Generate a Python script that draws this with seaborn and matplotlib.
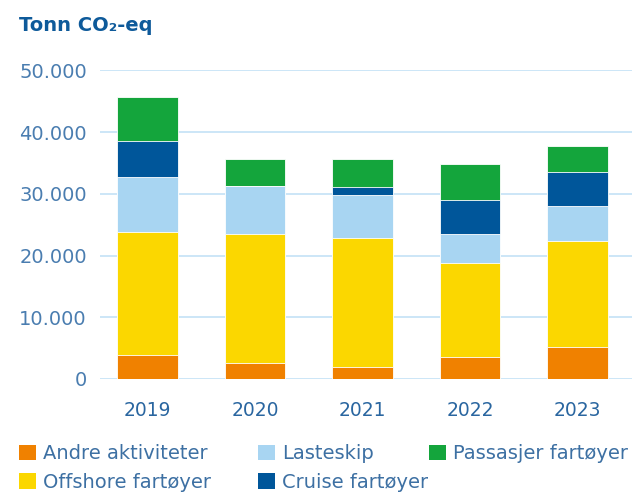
import matplotlib
matplotlib.use("Agg")
import matplotlib.pyplot as plt
import seaborn as sns
import pandas as pd
import numpy as np

years = ["2019", "2020", "2021", "2022", "2023"]
andre = [3890, 2590, 2000, 3620, 5240]
offshore = [19980, 20960, 20900, 15130, 17130]
lasteskip = [8870, 7730, 6920, 4750, 5670]
cruise = [5830, 0, 1300, 5510, 5510]
passasjer = [7180, 4380, 4540, 5840, 4210]

series_names = ["Andre aktiviteter", "Offshore fartøyer", "Lasteskip", "Cruise fartøyer", "Passasjer fartøyer"]
series_vals = [andre, offshore, lasteskip, cruise, passasjer]
colors = ["#F08100", "#FBD700", "#A8D5F2", "#00569A", "#14A53C"]
yticks = [0, 10000, 20000, 30000, 40000, 50000]
ytick_labels = ["0", "10.000", "20.000", "30.000", "40.000", "50.000"]

sns.set_theme(style="white")
plt.rcParams['font.family'] = ['DejaVu Sans']

W, H = 634, 493
fig = plt.figure(figsize=(W/100, H/100), dpi=100)
ax = fig.add_axes([100/W, 1-379/H, 532/W, (379-70.3)/H])

cum = np.cumsum(np.array(series_vals), axis=0)
handles = {}
for i in range(len(series_names) - 1, -1, -1):
    df = pd.DataFrame({"year": years, "value": cum[i]})
    sns.barplot(data=df, x="year", y="value", color=colors[i], width=0.567,
                edgecolor="white", linewidth=0.6, saturation=1, ax=ax, zorder=3)
    handles[series_names[i]] = plt.Rectangle((0, 0), 1, 1, facecolor=colors[i], edgecolor="none")

ax.set_xlim(-0.442, 4.507)
ax.set_ylim(0, 50000)
ax.set_yticks(yticks)
ax.set_yticklabels(ytick_labels)
ax.set_xlabel("")
ax.set_ylabel("")
for s in ax.spines.values():
    s.set_visible(False)
ax.grid(axis="y", color="#C3E2F6", linewidth=1.2, zorder=0)
ax.set_axisbelow(True)
ax.tick_params(axis="y", labelsize=14, length=0, pad=9.5)
ax.tick_params(axis="x", labelsize=13.5, length=0, pad=16)
for t in ax.get_yticklabels():
    t.set_color("#4A7DB0")
for t in ax.get_xticklabels():
    t.set_color("#2A66A0")

fig.text(19/W, 1-30.7/H, "Tonn CO₂-eq", fontsize=14, fontweight="bold",
         color="#0E5A9A", va="baseline", ha="left")

# legend entries placed as in the reference (row-major, 3 columns)
positions = {
    "Andre aktiviteter": (19, 453.7),
    "Lasteskip": (258, 453.7),
    "Passasjer fartøyer": (429.3, 453.7),
    "Offshore fartøyer": (19, 482),
    "Cruise fartøyer": (258, 482),
}
for name, (px, py) in positions.items():
    leg = fig.legend([handles[name]], [name], loc="center left",
                     bbox_to_anchor=(px/W, 1-py/H), frameon=False, fontsize=14,
                     handlelength=0.87, handleheight=0.87, handletextpad=0.36,
                     borderpad=0, borderaxespad=0)
    for t in leg.get_texts():
        t.set_color("#3D70A3")

fig.savefig("out.png", dpi=100)
